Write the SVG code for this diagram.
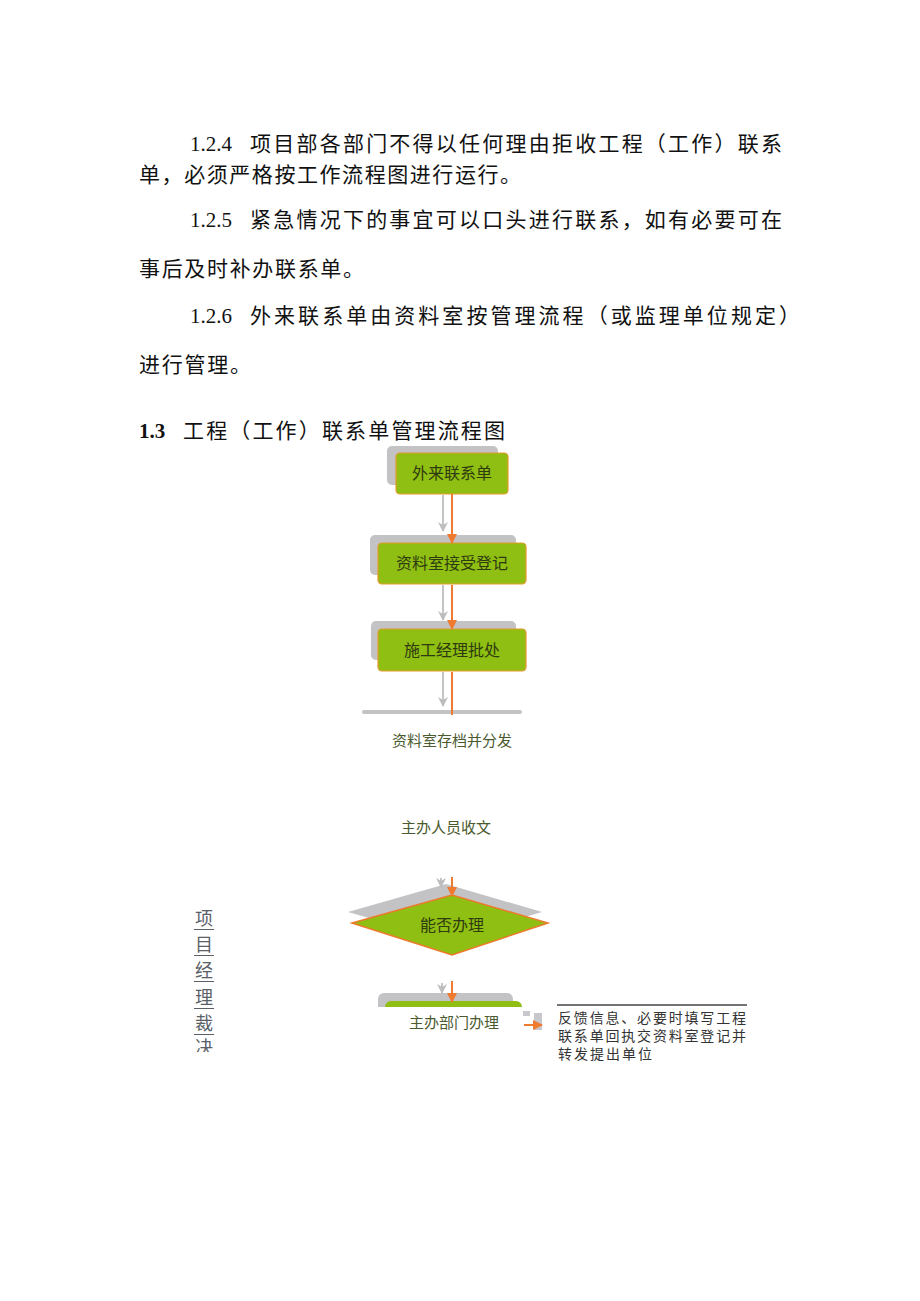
<svg xmlns="http://www.w3.org/2000/svg" width="920" height="1301" viewBox="0 0 920 1301">
<defs>
<style>
.body{font-family:"Noto Sans CJK SC","Liberation Serif",serif;font-size:21px;fill:#111}
.num{font-family:"Liberation Serif",serif;font-size:21px;fill:#111}
.shadow{fill:#c3c3c6}
.box{fill:#8fbf12;stroke:#e49a2a;stroke-width:1.2}
.bt{font-family:"Noto Sans CJK SC",sans-serif;font-size:16px;fill:#2e3a10;text-anchor:middle}
.lbl{font-family:"Noto Sans CJK SC",sans-serif;font-size:15px;fill:#4a5a2e;text-anchor:middle}
.note{font-family:"Noto Sans CJK SC",sans-serif;font-size:14px;fill:#333}
.vt{font-family:"Noto Sans CJK SC",sans-serif;font-size:18px;fill:#5a6068;text-anchor:middle}
.og{stroke:#f07a30;stroke-width:2;fill:none}
.gy{stroke:#c4c4c4;stroke-width:2;fill:none}
</style>
<marker id="ao" viewBox="0 0 10 10" refX="9" refY="5" markerWidth="5" markerHeight="5" orient="auto" markerUnits="strokeWidth"><path d="M0,0L10,5L0,10z" fill="#f07a30"/></marker>
<marker id="ag" viewBox="0 0 10 10" refX="9" refY="5" markerWidth="5" markerHeight="5" orient="auto"><path d="M0,0L10,5L0,10L3,5z" fill="#bdbdbd"/></marker>
<clipPath id="c5"><rect x="370" y="985" width="160" height="22"/></clipPath>
<clipPath id="cv"><rect x="180" y="900" width="50" height="152"/></clipPath>
</defs>
<rect width="920" height="1301" fill="#fff"/>

<g id="paragraphs">
<text class="num" x="190" y="151">1.2.4</text>
<text class="body" x="250" y="151" textLength="532" lengthAdjust="spacing">项目部各部门不得以任何理由拒收工程（工作）联系</text>
<text class="body" x="139" y="182" textLength="382" lengthAdjust="spacing">单，必须严格按工作流程图进行运行。</text>
<text class="num" x="190" y="227">1.2.5</text>
<text class="body" x="250" y="227" textLength="532" lengthAdjust="spacing">紧急情况下的事宜可以口头进行联系，如有必要可在</text>
<text class="body" x="139" y="276" textLength="225" lengthAdjust="spacing">事后及时补办联系单。</text>
<text class="num" x="190" y="323">1.2.6</text>
<text class="body" x="250" y="323" textLength="550" lengthAdjust="spacing">外来联系单由资料室按管理流程（或监理单位规定）</text>
<text class="body" x="139" y="372" textLength="112" lengthAdjust="spacing">进行管理。</text>
<text class="num" x="139" y="438" style="font-weight:bold">1.3</text>
<text class="body" x="183" y="438" textLength="322" lengthAdjust="spacing">工程（工作）联系单管理流程图</text>
</g>

<g id="n1">
<rect class="shadow" x="387" y="446" width="111" height="39" rx="5"/>
<rect class="box" x="396" y="453" width="112" height="41" rx="4"/>
<text class="bt" x="452" y="479">外来联系单</text>
</g>
<g id="n2">
<rect class="shadow" x="370" y="535" width="146" height="40" rx="5"/>
<rect class="box" x="378" y="543" width="148" height="41" rx="4"/>
<text class="bt" x="452" y="569">资料室接受登记</text>
</g>
<g id="n3">
<rect class="shadow" x="371" y="621" width="145" height="39" rx="5"/>
<rect class="box" x="378" y="629" width="148" height="42" rx="4"/>
<text class="bt" x="452" y="656">施工经理批处</text>
</g>
<g id="n4">
<rect class="shadow" x="362" y="710" width="160" height="4" rx="2"/>
<text class="lbl" x="452" y="746">资料室存档并分发</text>
</g>
<g id="n5">
<text class="lbl" x="446" y="833">主办人员收文</text>
</g>
<g id="n6">
<polygon points="348,912 446,884 542,912 446,940" fill="#c3c3c6"/>
<polygon points="352,923 452,895 548,923 452,955" fill="#8fbf12" stroke="#ec7a2a" stroke-width="1.5"/>
<text class="bt" x="452" y="931">能否办理</text>
</g>
<g id="n7">
<g clip-path="url(#c5)">
<rect class="shadow" x="378" y="993" width="135" height="30" rx="6"/>
<rect x="385" y="1001" width="137" height="30" rx="6" fill="#8fbf12"/>
</g>
<text class="lbl" x="454" y="1028">主办部门办理</text>
</g>
<g id="n8">
<line x1="557" y1="1005" x2="747" y2="1005" stroke="#444" stroke-width="1.3"/>
<text class="note" x="558" y="1023" textLength="188" lengthAdjust="spacing">反馈信息、必要时填写工程</text>
<text class="note" x="558" y="1041" textLength="188" lengthAdjust="spacing">联系单回执交资料室登记并</text>
<text class="note" x="558" y="1059" textLength="94" lengthAdjust="spacing">转发提出单位</text>
</g>
<g id="n9" clip-path="url(#cv)">
<text class="vt" x="204" y="925">项</text>
<text class="vt" x="204" y="951">目</text>
<text class="vt" x="204" y="977">经</text>
<text class="vt" x="204" y="1004">理</text>
<text class="vt" x="204" y="1030">裁</text>
<text class="vt" x="204" y="1054">决</text>
<g stroke="#5a6068" stroke-width="1">
<line x1="194" y1="929.5" x2="214" y2="929.5"/>
<line x1="194" y1="955.5" x2="214" y2="955.5"/>
<line x1="194" y1="981.5" x2="214" y2="981.5"/>
<line x1="194" y1="1008.5" x2="214" y2="1008.5"/>
<line x1="194" y1="1034.5" x2="214" y2="1034.5"/>
</g>
</g>

<g id="connectors">
<line class="gy" x1="443" y1="495" x2="443" y2="531" marker-end="url(#ag)"/>
<line class="og" x1="452" y1="494" x2="452" y2="543" marker-end="url(#ao)"/>
<line class="gy" x1="443" y1="585" x2="443" y2="620" marker-end="url(#ag)"/>
<line class="og" x1="452" y1="585" x2="452" y2="629" marker-end="url(#ao)"/>
<line class="gy" x1="443" y1="672" x2="443" y2="706" marker-end="url(#ag)"/>
<line class="og" x1="452" y1="672" x2="452" y2="715"/>
<line class="gy" x1="441" y1="878" x2="441" y2="887" marker-end="url(#ag)"/>
<line class="og" x1="452" y1="877" x2="452" y2="896" marker-end="url(#ao)"/>
<line class="gy" x1="442" y1="983" x2="442" y2="993" marker-end="url(#ag)"/>
<line class="og" x1="452" y1="981" x2="452" y2="1002" marker-end="url(#ao)"/>
<rect x="523" y="1011" width="7" height="5" fill="#c8c8cc"/>
<rect x="534" y="1013" width="8" height="17" fill="#c8c8cc"/>
<line class="og" x1="524" y1="1025" x2="542" y2="1025" marker-end="url(#ao)"/>
</g>
</svg>
